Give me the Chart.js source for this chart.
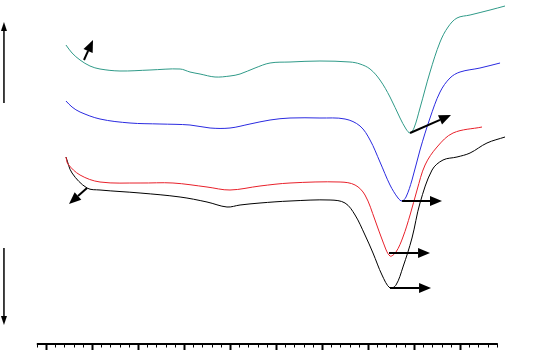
<!DOCTYPE html>
<html>
<head>
<meta charset="utf-8">
<script src="https://cdn.jsdelivr.net/npm/chart.js@4"></script>
<style>
  html, body { margin: 0; padding: 0; background: #fff; }
  #wrap { width: 534px; height: 352px; }
</style>
</head>
<body>
<div id="wrap"><canvas id="spectra"></canvas></div>
<script>
// series values (x in axis units, 5 per major tick; y in a.u.)
const tealX = [2.17, 2.83, 3.70, 4.78, 5.87, 8.04, 11.30, 14.57, 15.65, 16.74, 18.37, 20.0, 21.09, 22.72, 24.35, 26.52, 29.78, 33.04, 34.13, 35.22, 36.30, 37.39, 38.48, 39.13, 39.57, 40.0, 40.65, 41.74, 42.83, 43.70, 44.67, 46.09, 48.26, 49.89];
const tealY = [29.9, 29.1, 28.4, 27.8, 27.5, 27.3, 27.4, 27.5, 27.2, 27.0, 26.7, 26.8, 27.0, 27.6, 28.1, 28.2, 28.3, 28.2, 28.0, 27.5, 26.4, 24.7, 22.6, 21.5, 21.1, 21.6, 23.6, 27.2, 30.2, 31.7, 32.6, 32.9, 33.4, 33.8];

const blueX = [2.17, 2.83, 3.70, 5.87, 9.13, 12.39, 15.65, 17.83, 20.0, 22.17, 24.35, 26.52, 29.78, 32.50, 34.13, 35.22, 36.30, 37.39, 38.26, 38.70, 39.13, 39.78, 40.65, 41.74, 42.83, 43.91, 45.0, 47.17, 49.35];
const blueY = [24.3, 23.7, 23.2, 22.5, 22.1, 22.0, 21.9, 21.6, 21.6, 22.0, 22.4, 22.6, 22.6, 22.5, 21.8, 20.4, 18.2, 15.9, 14.6, 14.3, 14.7, 16.4, 19.4, 22.6, 25.2, 26.6, 27.2, 27.6, 28.1];

const redX = [2.17, 2.39, 3.70, 5.87, 10.22, 13.80, 17.50, 20.0, 23.26, 26.52, 31.96, 33.59, 34.67, 35.76, 36.63, 37.39, 38.04, 38.80, 39.57, 40.33, 41.20, 42.50, 44.24, 47.39];
const redY = [18.7, 18.0, 16.9, 16.2, 16.1, 16.1, 15.7, 15.4, 15.8, 16.1, 16.2, 15.9, 14.9, 12.4, 10.2, 8.8, 9.2, 10.7, 12.9, 15.4, 17.9, 19.7, 21.1, 21.7];

const blackX = [2.17, 2.83, 4.46, 5.87, 10.22, 14.57, 17.50, 19.67, 21.09, 23.26, 26.52, 30.87, 32.50, 33.59, 34.67, 35.54, 36.52, 37.39, 38.04, 38.80, 39.78, 40.65, 41.96, 43.15, 44.67, 46.09, 47.93, 49.89];
const blackY = [18.7, 17.1, 15.6, 15.4, 15.1, 14.7, 14.2, 13.7, 13.9, 14.1, 14.3, 14.4, 14.1, 12.9, 10.9, 9.1, 6.9, 5.6, 5.9, 7.7, 10.6, 14.1, 17.4, 18.4, 18.7, 19.1, 20.1, 20.7];

// x axis ticks: minor every 1, major every 5
const axisFrom = -1;
const axisTo = 49;
const majorStep = 5;

// marker arrows [x1, y1, x2, y2] in data units
const markerArrows = [
  [4.13, 28.4, 5.11, 30.4],
  [4.46, 15.6, 2.50, 14.0],
  [39.57, 21.1, 44.02, 22.9],
  [38.70, 14.3, 43.04, 14.3],
  [37.28, 9.1, 41.74, 9.1],
  [37.39, 5.6, 41.85, 5.6]
];
// left side direction arrows
const sideArrows = [
  [-4.57, 24.1, -4.57, 32.2],
  [-4.57, 9.6, -4.57, 1.9]
];

const toPoints = (xs, ys) => xs.map((x, i) => ({ x: x, y: ys[i] }));

function drawArrow(ctx, x1, y1, x2, y2, width, headLen, headW) {
  const ang = Math.atan2(y2 - y1, x2 - x1);
  const bx = x2 - headLen * Math.cos(ang);
  const by = y2 - headLen * Math.sin(ang);
  ctx.lineWidth = width;
  ctx.beginPath();
  ctx.moveTo(x1, y1);
  ctx.lineTo(bx, by);
  ctx.stroke();
  ctx.beginPath();
  ctx.moveTo(x2, y2);
  ctx.lineTo(bx + headW / 2 * Math.sin(ang), by - headW / 2 * Math.cos(ang));
  ctx.lineTo(bx - headW / 2 * Math.sin(ang), by + headW / 2 * Math.cos(ang));
  ctx.closePath();
  ctx.fill();
}

const decorations = {
  id: "decorations",
  afterDatasetsDraw(chart) {
    const ctx = chart.ctx;
    const xs = chart.scales.x;
    const ys = chart.scales.y;
    ctx.save();
    ctx.strokeStyle = "#000";
    ctx.fillStyle = "#000";

    // bottom axis
    const y0 = ys.getPixelForValue(0);
    ctx.lineWidth = 2;
    ctx.beginPath();
    ctx.moveTo(xs.getPixelForValue(axisFrom), y0);
    ctx.lineTo(xs.getPixelForValue(axisTo) + 1, y0);
    ctx.stroke();
    for (let v = axisFrom; v <= axisTo; v++) {
      const px = Math.round(xs.getPixelForValue(v)) + 0.5;
      const major = v % majorStep === 0;
      ctx.lineWidth = major ? 2 : 1;
      ctx.beginPath();
      ctx.moveTo(px, y0);
      ctx.lineTo(px, y0 + (major ? 6 : 3.5));
      ctx.stroke();
    }

    markerArrows.forEach(a => {
      drawArrow(ctx, xs.getPixelForValue(a[0]), ys.getPixelForValue(a[1]),
        xs.getPixelForValue(a[2]), ys.getPixelForValue(a[3]), 2, 12, 10);
    });
    sideArrows.forEach(a => {
      drawArrow(ctx, xs.getPixelForValue(a[0]), ys.getPixelForValue(a[1]),
        xs.getPixelForValue(a[2]), ys.getPixelForValue(a[3]), 1.5, 9, 6);
    });
    ctx.restore();
  }
};

const lineStyle = {
  borderWidth: 1,
  pointRadius: 0,
  fill: false,
  tension: 0.35
};

new Chart(document.getElementById("spectra"), {
  type: "line",
  data: {
    datasets: [
      { ...lineStyle, label: "a", data: toPoints(tealX, tealY), borderColor: "#2f9a88" },
      { ...lineStyle, label: "b", data: toPoints(blueX, blueY), borderColor: "#2a2ae0" },
      { ...lineStyle, label: "c", data: toPoints(redX, redY), borderColor: "#e8202a" },
      { ...lineStyle, label: "d", data: toPoints(blackX, blackY), borderColor: "#000000" }
    ]
  },
  options: {
    responsive: true,
    maintainAspectRatio: false,
    animation: false,
    layout: { padding: 0 },
    plugins: {
      legend: { display: false },
      tooltip: { enabled: false }
    },
    scales: {
      x: { type: "linear", display: false, min: -5.0, max: 53.04 },
      y: { type: "linear", display: false, min: -0.8, max: 34.4 }
    }
  },
  plugins: [decorations]
});
</script>
</body>
</html>
